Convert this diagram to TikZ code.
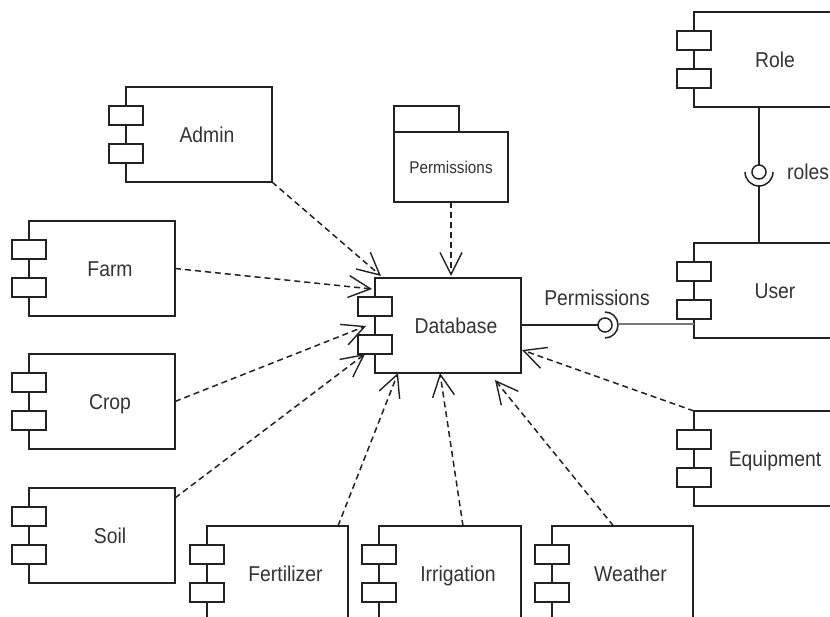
\documentclass[tikz,border=0pt]{standalone}
\usepackage{fontspec}
\setmainfont{Liberation Sans}[FakeStretch=0.9]
\usetikzlibrary{arrows.meta,calc}
\definecolor{linec}{HTML}{222222}
\definecolor{textc}{HTML}{333333}
\definecolor{grayline}{HTML}{777777}
\tikzset{
  compbox/.style={draw=linec, line width=1.5pt, minimum height=95pt, inner sep=0pt, outer sep=0pt,
    text=textc, font=\fontsize{21.5}{25}\selectfont, text height=15.5pt, text depth=0pt},
  boxline/.style={draw=linec, line width=1.5pt},
  dep/.style={draw=linec, line width=1.5pt, dash pattern=on 6pt off 4pt,
    -{Straight Barb[length=22pt, width=22pt, line width=1.4pt]}},
  conn/.style={draw=linec, line width=1.5pt},
  lbl/.style={text=textc, font=\fontsize{21.5}{25}\selectfont, inner sep=0pt},
}
\newcommand\compnt[5]{%
  \node[compbox, minimum width=#4, anchor=north west] (#1) at (#2,#3) {\hspace*{16pt}#5};
  \draw[boxline, fill=white] ($(#1.north west)+(-17,19)$) rectangle ++(34,19);
  \draw[boxline, fill=white] ($(#1.north west)+(-17,57)$) rectangle ++(34,19);
}
\begin{document}
\begin{tikzpicture}[x=1pt, y=-1pt]
\useasboundingbox (0,0) rectangle (830,617);
\clip (0,0) rectangle (830,617);
\fill[white] (0,0) rectangle (830,617);

% components
\compnt{admin}{126}{87}{146}{Admin}
\compnt{farm}{29}{221}{146}{Farm}
\compnt{crop}{29}{354}{146}{Crop}
\compnt{soil}{29}{488}{146}{Soil}
\compnt{db}{375}{278}{146}{Database}
\compnt{role}{694}{12}{146}{Role}
\compnt{user}{694}{243}{146}{User}
\compnt{equip}{694}{411}{146}{Equipment}
\compnt{fert}{207}{526}{141}{Fertilizer}
\compnt{irrig}{379}{526}{142}{Irrigation}
\compnt{weather}{552}{526}{141}{Weather}

% package
\node[draw=linec, line width=1.5pt, anchor=north west, minimum width=65pt, minimum height=26pt,
  inner sep=0pt, outer sep=0pt] (ptab) at (394,106) {};
\node[draw=linec, line width=1.5pt, anchor=north west, minimum width=114pt, minimum height=70pt,
  inner sep=0pt, outer sep=0pt, text=textc, font=\fontsize{17}{20}\selectfont] (perm) at (394,132) {Permissions};

% dependency tips
\coordinate (tAdmin) at (381,276);
\coordinate (tFarm) at (372,289);
\coordinate (tCrop) at (366,326);
\coordinate (tSoil) at (365,354);
\coordinate (tPerm) at (451,276);
\coordinate (tFert) at (398,373);
\coordinate (tIrrig) at (440,373);
\coordinate (tWeather) at (495,380);
\coordinate (tEquip) at (522,350);

\draw[dep] (admin.south east) -- (tAdmin);
\draw[dep] (farm.east) -- (tFarm);
\draw[dep] (crop.east) -- (tCrop);
\draw[dep] ($(soil.north east)+(0,10)$) -- (tSoil);
\draw[dep] (perm.south) -- (tPerm);
\draw[dep] ($(fert.north east)+(-10,0)$) -- (tFert);
\draw[dep] ($(irrig.north)+(13,0)$) -- (tIrrig);
\draw[dep] ($(weather.north)+(-9,0)$) -- (tWeather);
\draw[dep] (equip.north west) -- (tEquip);

% Permissions interface (ball and socket)
\coordinate (pball) at (605,325);
\draw[conn] (db.east |- pball) -- ($(pball)+(-7,0)$);
\draw[conn] (pball) circle[radius=7];
\draw[conn] ($(pball)+(0,-13)$) arc[start angle=-90, end angle=90, radius=13];
\draw[draw=grayline, line width=1.5pt] ($(pball)+(13,-1)$) -- (user.west |- {$(pball)+(0,-1)$});
\node[lbl] (permlbl) at (597,298) {Permissions};

% roles interface
\coordinate (rball) at (759,172);
\draw[conn] (role.south -| rball) -- ($(rball)+(0,-7)$);
\draw[conn] (rball) circle[radius=7];
\draw[conn] ($(rball)+(-14,0)$) arc[start angle=180, end angle=0, radius=14];
\draw[conn] ($(rball)+(0,14)$) -- (user.north -| rball);
\node[lbl, anchor=west] (roleslbl) at (787,172) {roles};
\end{tikzpicture}
\end{document}
